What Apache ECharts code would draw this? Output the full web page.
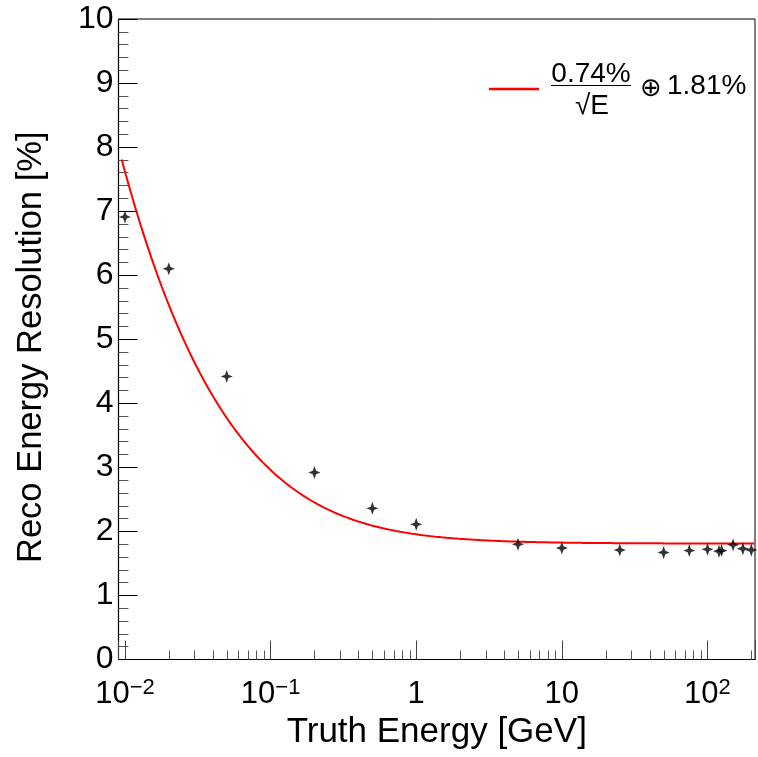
<!DOCTYPE html>
<html>
<head>
<meta charset="utf-8">
<script src="https://cdn.jsdelivr.net/npm/echarts@6/dist/echarts.min.js"></script>
<style>
  html, body { margin: 0; padding: 0; background: #fff; }
  #chart { width: 758px; height: 757px; }
</style>
</head>
<body>
<div id="chart"></div>
<script>
// Measured points: truth energy (GeV) and reconstructed energy resolution (%)
const truthEnergy = [0.01, 0.02, 0.05, 0.2, 0.5, 1, 5, 10, 25, 50, 75, 100, 120, 125, 150, 175, 200];
const resolution  = [6.91, 6.10, 4.42, 2.92, 2.36, 2.11, 1.80, 1.74, 1.71, 1.67, 1.70, 1.72, 1.69, 1.70, 1.79, 1.73, 1.71];

// Fit parameters: sigma/E = a/sqrt(E) (+) b, in percent
const fitStochastic = 0.74;
const fitConstant = 1.81;
const fitRange = [0.0095, 210];

// Axis ranges
const xRange = [0.00903, 212];
const yRange = [0, 10];
const yTicks = [0, 1, 2, 3, 4, 5, 6, 7, 8, 9, 10];

const FONT = '"Liberation Sans", Arial, Helvetica, sans-serif';

// fit curve sampled evenly in log(E)
const fitCurve = [];
{
  const n = 300;
  const l0 = Math.log10(fitRange[0]), l1 = Math.log10(fitRange[1]);
  for (let i = 0; i <= n; i++) {
    const e = Math.pow(10, l0 + (l1 - l0) * i / n);
    const s = Math.sqrt(fitStochastic * fitStochastic / e + fitConstant * fitConstant);
    fitCurve.push([e, s]);
  }
}

// minor ticks of the log axis: 2..9 within each decade
const xMinorTicks = [];
for (let d = -3; d <= 2; d++) {
  for (let k = 2; k <= 9; k++) {
    const v = k * Math.pow(10, d);
    if (v > xRange[0] && v < xRange[1]) xMinorTicks.push([v, 0]);
  }
}

const pointData = truthEnergy.map((e, i) => [e, resolution[i]]);

const starPath = 'path://M0,-6.5 L1.7,-1.7 L6,0 L1.7,1.7 L0,6.5 L-1.7,1.7 L-6,0 L-1.7,-1.7 Z';

function xLabel(v) {
  const lg = Math.log10(v);
  const e = Math.round(lg);
  if (Math.abs(lg - e) > 1e-6) return '';
  if (e === 0) return '{b|1}';
  if (e === 1) return '{b|10}';
  return '{b|10}{s|' + (e < 0 ? '\u2212' + (-e) : String(e)) + '}';
}

const chart = echarts.init(document.getElementById('chart'), null, { renderer: 'canvas' });

chart.setOption({
  animation: false,
  backgroundColor: '#fff',
  grid: {
    left: 118.5, right: 0.8, top: 19, bottom: 97.5,
    show: true, borderColor: '#000', borderWidth: 1, backgroundColor: 'transparent'
  },
  xAxis: {
    type: 'log',
    logBase: 10,
    min: xRange[0],
    max: xRange[1],
    name: 'Truth Energy [GeV]',
    nameLocation: 'middle',
    nameGap: 54,
    nameTextStyle: { fontFamily: FONT, fontSize: 35, color: '#000' },
    axisLine: { show: true, lineStyle: { color: '#000', width: 1.2 } },
    axisTick: { show: true, inside: true, length: 19, lineStyle: { color: '#444', width: 1 } },
    minorTick: { show: false },
    splitLine: { show: false },
    axisLabel: {
      margin: 17,
      showMinLabel: true,
      showMaxLabel: true,
      hideOverlap: false,
      formatter: xLabel,
      rich: {
        b: { fontFamily: FONT, fontSize: 31, color: '#000', lineHeight: 36 },
        s: { fontFamily: FONT, fontSize: 22, color: '#000', lineHeight: 18, verticalAlign: 'top' }
      }
    }
  },
  yAxis: {
    type: 'value',
    min: yRange[0],
    max: yRange[1],
    interval: 1,
    name: 'Reco Energy Resolution [%]',
    nameLocation: 'middle',
    nameGap: 70,
    nameTextStyle: { fontFamily: FONT, fontSize: 34.5, color: '#000', padding: [0, 16, 0, 0] },
    axisLine: { show: true, lineStyle: { color: '#000', width: 1.2 } },
    axisTick: { show: true, inside: true, length: 19, lineStyle: { color: '#000', width: 1 } },
    minorTick: { show: true, splitNumber: 5, length: 10, lineStyle: { color: '#555', width: 1 } },
    splitLine: { show: false },
    axisLabel: {
      margin: 5,
      fontFamily: FONT,
      fontSize: 32,
      color: '#000',
      formatter: v => (yTicks.indexOf(v) >= 0 ? String(v) : '')
    }
  },
  series: [
    {
      type: 'custom',
      name: 'minorTicksX',
      silent: true,
      clip: false,
      data: xMinorTicks,
      renderItem: function (params, api) {
        const p = api.coord([api.value(0), yRange[0]]);
        return {
          type: 'line',
          shape: { x1: Math.round(p[0]) + 0.5, y1: p[1], x2: Math.round(p[0]) + 0.5, y2: p[1] - 9 },
          style: { stroke: '#555', lineWidth: 1 }
        };
      }
    },
    {
      type: 'line',
      name: 'fit',
      data: fitCurve,
      showSymbol: false,
      smooth: false,
      lineStyle: { color: '#ff0000', width: 2 },
      z: 3
    },
    {
      type: 'scatter',
      name: 'data',
      data: pointData,
      symbol: starPath,
      symbolSize: [12, 13],
      itemStyle: { color: '#000' },
      z: 4
    }
  ],
  graphic: [
    {
      type: 'line',
      shape: { x1: 489, y1: 89, x2: 539, y2: 89 },
      style: { stroke: '#ff0000', lineWidth: 2.5 }
    },
    {
      type: 'text',
      x: 591, y: 74,
      style: { text: '0.74%', font: '28px ' + FONT, fill: '#000', align: 'center', verticalAlign: 'middle' }
    },
    {
      type: 'line',
      shape: { x1: 551, y1: 85.5, x2: 631, y2: 85.5 },
      style: { stroke: '#000', lineWidth: 1 }
    },
    {
      type: 'text',
      x: 592, y: 106,
      style: { text: '\u221AE', font: '28px ' + FONT, fill: '#000', align: 'center', verticalAlign: 'middle' }
    },
    {
      type: 'text',
      x: 651, y: 89.5,
      style: { text: '\u2295', font: '26px "DejaVu Sans", ' + FONT, fill: '#000', align: 'center', verticalAlign: 'middle' }
    },
    {
      type: 'text',
      x: 667, y: 86,
      style: { text: '1.81%', font: '28px ' + FONT, fill: '#000', align: 'left', verticalAlign: 'middle' }
    }
  ]
});
</script>
</body>
</html>
